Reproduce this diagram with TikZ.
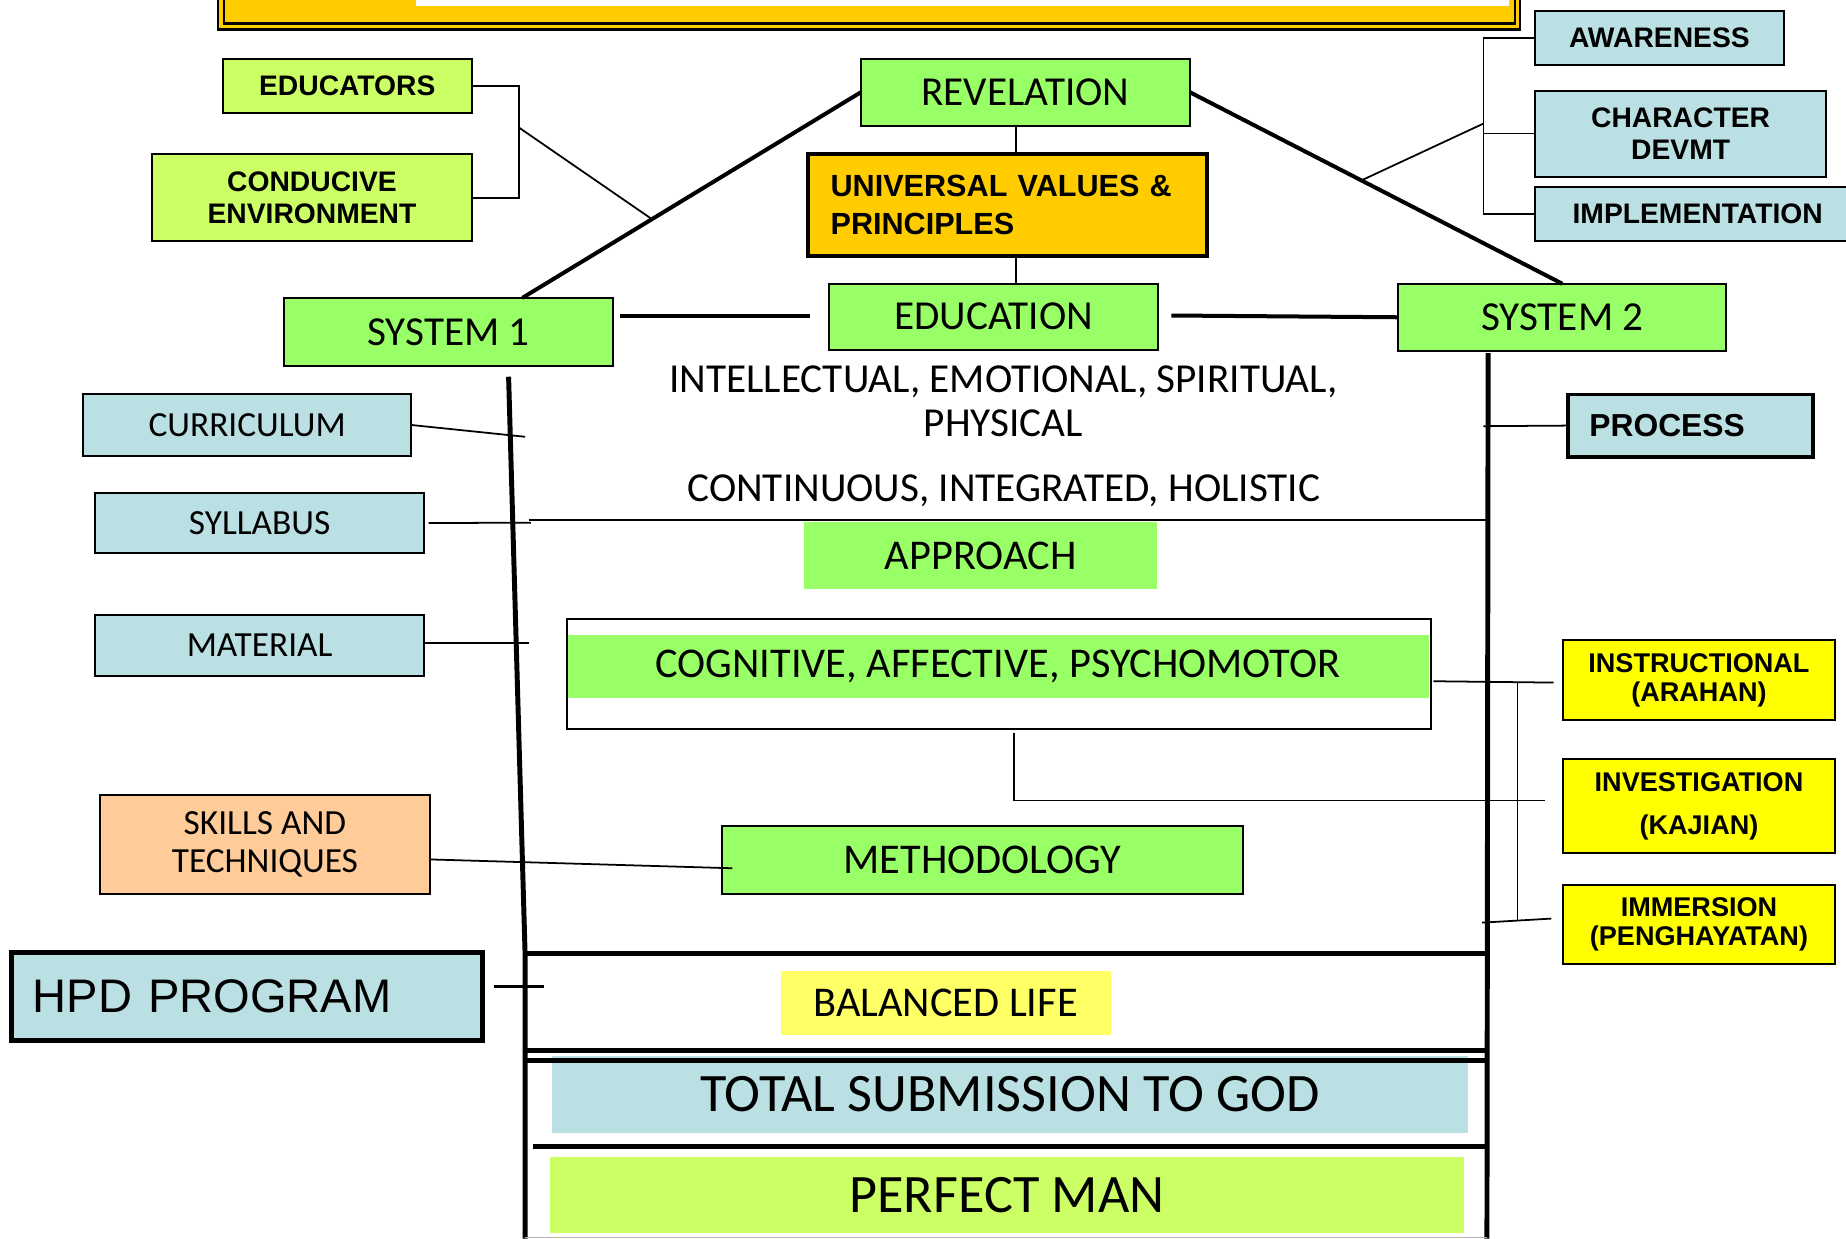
\documentclass[tikz,border=0pt]{standalone}
\usepackage{fontspec}
\setmainfont{Carlito}
\newfontfamily\hpdsans{Liberation Sans}
\usepackage{tikz}
\usetikzlibrary{calc}

\definecolor{hpdgreen}{HTML}{99FF66}
\definecolor{hpdlime}{HTML}{CCFF66}
\definecolor{hpdblue}{HTML}{BBE0E3}
\definecolor{hpdgold}{HTML}{FFCC00}
\definecolor{hpdyellow}{HTML}{FFFF00}
\definecolor{hpdpale}{HTML}{FFFF66}
\definecolor{hpdpeach}{HTML}{FFCC99}

\begin{document}
\begin{tikzpicture}[x=0.5pt,y=-0.5pt]
\tikzstyle{box}=[draw,line width=0.85pt,inner sep=0pt,outer sep=0pt,align=center]
\tikzstyle{band}=[inner sep=0pt,outer sep=0pt,align=center]
\tikzstyle{hand}=[font=\fontsize{17.5}{21}\selectfont]
\tikzstyle{handmid}=[font=\fontsize{18}{21}\selectfont]
\tikzstyle{handsmall}=[font=\fontsize{15}{16.3}\selectfont]
\tikzstyle{handbig}=[font=\fontsize{23}{27}\selectfont]
\tikzstyle{heavy}=[font=\hpdsans\bfseries\fontsize{12}{13.5}\selectfont]
\tikzstyle{yel}=[box,fill=hpdyellow,font=\hpdsans\bfseries\fontsize{11.5}{12.3}\selectfont,minimum width=115.4pt]
\tikzstyle{link}=[line width=0.75pt]
\tikzstyle{roof}=[line width=1.7pt]
\tikzstyle{wall}=[line width=2.1pt]

\useasboundingbox (0,0) rectangle (1568,1052);

	\fill[hpdgold] (185,-10) rectangle (1291,25);
	\fill[white] (353,-10) rectangle (1282,5);
	\draw[line width=1pt] (185,-10) |- (1291,25) -- (1291,-10);
	\draw[line width=1pt] (190,-10) |- (1287,20) -- (1287,-10);

	\node[box,heavy,fill=hpdlime,minimum width=106pt,minimum height=23pt] (educ) at (295,73) {EDUCATORS};
	\node[box,heavy,fill=hpdlime,minimum width=136pt,minimum height=37pt] (cond) at (265,168) {CONDUCIVE\\ENVIRONMENT};
	\node[box,hand,fill=hpdgreen,minimum width=140pt,minimum height=28.5pt] (rev) at (871,78.5) {REVELATION};
	\node[box,fill=hpdgold,line width=1.6pt,font=\hpdsans\bfseries\fontsize{13}{16.3}\selectfont,
		inner xsep=9.75pt,text width=150pt,align=left,minimum height=43.25pt] (uvp) at (855.5,174) {UNIVERSAL VALUES \&\\PRINCIPLES};
	\node[box,hand,fill=hpdgreen,minimum width=140pt,minimum height=28pt] (edu) at (844,269) {EDUCATION};
	\node[box,hand,fill=hpdgreen,minimum width=139.75pt,minimum height=29pt] (sys1) at (381,282) {SYSTEM 1};
	\node[box,hand,fill=hpdgreen,minimum width=139.25pt,minimum height=28.5pt] (sys2) at (1327,269.5) {SYSTEM 2};

	\node[box,heavy,fill=hpdblue,minimum width=105.5pt,minimum height=23pt] (aware) at (1409.5,32) {AWARENESS};
	\node[box,heavy,fill=hpdblue,minimum width=123.5pt,minimum height=36.5pt] (chardev) at (1427.5,113.5) {CHARACTER\\DEVMT};
	\node[box,heavy,fill=hpdblue,minimum width=138pt,minimum height=22.75pt] (impl) at (1442,181.75) {IMPLEMENTATION};
	\node[box,fill=hpdblue,line width=1.6pt,font=\hpdsans\bfseries\fontsize{13.5}{16}\selectfont,
		inner xsep=9pt,text width=86pt,align=left,minimum height=26.5pt] (proc) at (1436,361.5) {PROCESS};

	\node[box,handsmall,fill=hpdblue,minimum width=139.5pt,minimum height=26pt] (curr) at (210,361) {CURRICULUM};
	\node[box,handsmall,fill=hpdblue,minimum width=139.5pt,minimum height=25.75pt] (syll) at (220.5,444.25) {SYLLABUS};
	\node[box,handsmall,fill=hpdblue,minimum width=139.5pt,minimum height=25.7pt] (mat) at (220.5,548.3) {MATERIAL};
	\node[box,handsmall,fill=hpdpeach,minimum width=140pt,minimum height=42pt] (skill) at (225,717) {SKILLS AND\\TECHNIQUES};

	\node[align=center,font=\fontsize{17.5}{18.75}\selectfont] (intel) at (852.3,341) {INTELLECTUAL, EMOTIONAL, SPIRITUAL,\\PHYSICAL};
	\node[hand] (cont) at (852.6,417) {CONTINUOUS, INTEGRATED, HOLISTIC};
	\node[band,handmid,fill=hpdgreen,minimum width=150pt,minimum height=28.5pt] (appr) at (833,472.15) {APPROACH};
	\node[band,handmid,fill=hpdgreen,minimum width=366pt,minimum height=26.8pt] (cog) at (847.5,566.2) {COGNITIVE, AFFECTIVE, PSYCHOMOTOR};
	\node[draw,line width=0.85pt,inner sep=0pt,outer sep=0pt,minimum width=367pt,minimum height=46.85pt] (cogbox) at (848.6,572.65) {};
	\node[box,handmid,fill=hpdgreen,minimum width=221.5pt,minimum height=28.5pt] (meth) at (834.5,730.5) {METHODOLOGY};

	\node[yel,minimum height=33.8pt] (instr) at (1443.1,577.8) {INSTRUCTIONAL\\(ARAHAN)};
	\node[yel,minimum height=39.9pt] (invest) at (1443.1,684.9) {INVESTIGATION\\[6.1pt](KAJIAN)};
	\node[yel,minimum height=33.55pt] (immer) at (1443.1,785.25) {IMMERSION\\(PENGHAYATAN)};

	\node[band,handmid,fill=hpdpale,minimum width=140.2pt,minimum height=27pt] (bal) at (803.2,852) {BALANCED LIFE};
	\node[box,fill=hpdblue,line width=2pt,font=\hpdsans\fontsize{20}{24}\selectfont,
		inner xsep=9pt,text width=182pt,align=left,minimum height=37.3pt] (hpd) at (210,846.3) {HPD PROGRAM};
	\node[band,handbig,fill=hpdblue,minimum width=388.8pt,minimum height=32.5pt] (tsg) at (857.8,929.5) {TOTAL SUBMISSION TO GOD};
	\node[band,handbig,fill=hpdlime,minimum width=388.3pt,minimum height=32.3pt] (pm) at (855.3,1015.3) {PERFECT MAN};

	\coordinate (roofl) at ($(sys1.north west)!0.7245!(sys1.north east)$);
	\draw[roof] (roofl) -- (rev.west);
	\draw[roof] (rev.east) -- (sys2.north);
	\draw[link] ($(rev.south)+(-8,0)$) -- ($(rev.south |- uvp.north)+(-8,0)$);
	\draw[link] ($(uvp.south)+(7.5,0)$) -- ($(uvp.south |- edu.north)+(7.5,0)$);
	\draw[roof] ($(sys1.east |- edu.west)+(6,-1)$) -- ($(edu.west)+(-16,-1)$);
	\draw[roof] ($(edu.east)+(11,-1)$) -- (sys2.west);

	\coordinate (lknee) at (441,108.5);
	\draw[link] (educ.east) -| (lknee) |- (cond.east);
	\draw[link] (lknee) -- ($(roofl)!0.383!(rev.west)$);
	\coordinate (rknee) at (1260,105);
	\draw[link] (aware.west) -- ++(-44,0) |- (impl.west);
	\draw[link] (chardev.west) -- ++(-44,0);
	\draw[link] (rknee) -- ($(rev.east)!0.46!(sys2.north)$);

	\coordinate (wlt) at (432,320);
	\coordinate (wlb) at (446,810);
	\coordinate (wlend) at (446,1052);
	\coordinate (wrt) at (1264,300);
	\coordinate (wrb) at (1263,810);
	\coordinate (wrend) at (1263,1052);
	\draw[wall] (wlt) -- (wlb) -- (wlend);
	\draw[wall] (wrt) -- (wrend);
	\draw[wall] (wlb) -- (wrb);
	\draw[wall] ($(wlb)+(0,82)$) -- ($(wrb)+(0,82)$);
	\draw[wall] ($(wlb)+(0,91)$) -- ($(wrb)+(0,91)$);
	\draw[wall] ($(wlb)+(7,164)$) -- ($(wrb)+(-2,164)$);
	\draw[gray!60,line width=0.6pt] ($(wlend)+(0,-1)$) -- ($(wrend)+(0,-1)$);

	\coordinate (currtick) at (446,371);
	\coordinate (sylltick) at (451,444);
	\coordinate (divl) at (449,442);
	\coordinate (divr) at (1263,442);
	\coordinate (mattick) at (449,546);
	\coordinate (hpdtick) at (462,838);
	\draw[link] (curr.east) -- (currtick);
	\draw[link] ($(syll.east)+(4,0)$) -- (sylltick);
	\draw[link] (divl) -- (divr);
	\draw[link] (mat.east |- mattick) -- (mattick);
	\draw[link] ($(skill.east)+(0,13)$) -- ($(meth.west)+(9,7)$);
	\draw[line width=1pt] ($(hpd.east |- hpdtick)+(10,0)$) -- (hpdtick);

	\coordinate (proctick) at (1260,362);
	\draw[link] (proc.west) -- (proctick);
	\draw[link] ($(cogbox.east)+(2,6)$) -- ($(instr.west)+(-8,2)$);
	\coordinate (ibrt) at (1289,580);
	\coordinate (ibrb) at (1289,781.5);
	\draw[link] (ibrt) -- (ibrb);
	\coordinate (immtick) at (1259,783.7);
	\draw[link] (immtick) -- ($(immer.west)+(-10,-5)$);
	\coordinate (cogdrop) at ($(cogbox.south)+(12.4,3.5)$);
	\draw[link] (cogdrop) |- ($(invest.west)+(-15,-5)$);

\end{tikzpicture}
\end{document}
